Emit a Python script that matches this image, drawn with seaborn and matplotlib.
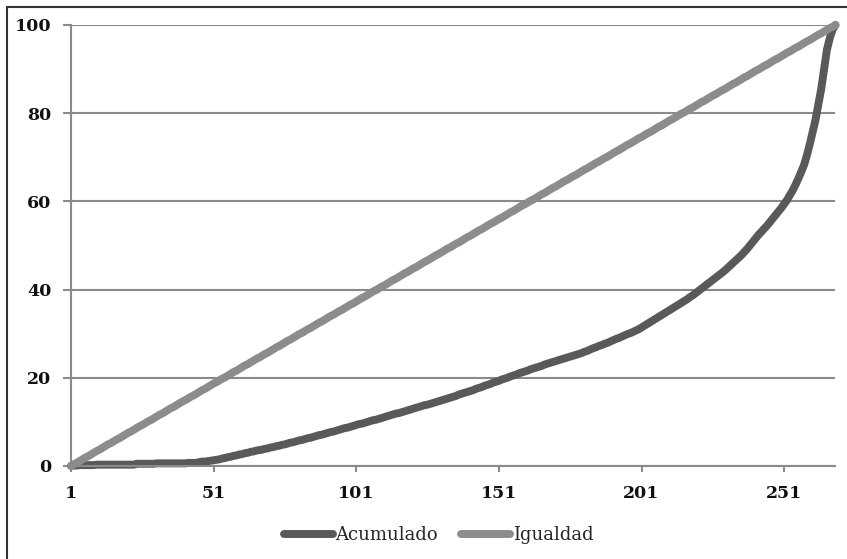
import pandas as pd
import seaborn as sns
import matplotlib.pyplot as plt
from matplotlib.lines import Line2D
from matplotlib.patches import Rectangle

# position of each person on the category axis
persona = list(range(1, 270))

# cumulative share (Lorenz curve)
acumulado = [
    0.0, 0.1, 0.1, 0.2, 0.2, 0.2, 0.2, 0.2, 0.2, 0.3,
    0.3, 0.3, 0.3, 0.3, 0.3, 0.3, 0.3, 0.3, 0.3, 0.3,
    0.3, 0.3, 0.3, 0.5, 0.5, 0.5, 0.5, 0.5, 0.5, 0.5,
    0.6, 0.6, 0.6, 0.6, 0.6, 0.6, 0.6, 0.6, 0.6, 0.6,
    0.6, 0.7, 0.7, 0.7, 0.7, 0.9, 1.0, 1.0, 1.1, 1.2,
    1.3, 1.4, 1.5, 1.7, 1.8, 2.0, 2.1, 2.3, 2.4, 2.6,
    2.7, 2.9, 3.0, 3.2, 3.3, 3.5, 3.6, 3.7, 3.9, 4.0,
    4.2, 4.3, 4.5, 4.6, 4.8, 4.9, 5.1, 5.3, 5.4, 5.6,
    5.8, 5.9, 6.1, 6.3, 6.4, 6.6, 6.8, 7.0, 7.1, 7.3,
    7.5, 7.7, 7.8, 8.0, 8.2, 8.4, 8.6, 8.7, 8.9, 9.1,
    9.3, 9.5, 9.6, 9.8, 10.0, 10.2, 10.4, 10.5, 10.7, 10.9,
    11.1, 11.3, 11.5, 11.7, 11.9, 12.0, 12.2, 12.4, 12.6, 12.8,
    13.0, 13.2, 13.4, 13.6, 13.8, 13.9, 14.1, 14.3, 14.5, 14.7,
    14.9, 15.1, 15.3, 15.5, 15.7, 15.9, 16.2, 16.4, 16.6, 16.8,
    17.0, 17.2, 17.5, 17.7, 17.9, 18.2, 18.4, 18.6, 18.9, 19.1,
    19.3, 19.6, 19.8, 20.0, 20.3, 20.5, 20.7, 21.0, 21.2, 21.4,
    21.6, 21.9, 22.1, 22.3, 22.5, 22.7, 23.0, 23.2, 23.4, 23.6,
    23.8, 24.0, 24.2, 24.4, 24.6, 24.8, 25.0, 25.2, 25.4, 25.6,
    25.9, 26.1, 26.4, 26.7, 26.9, 27.2, 27.4, 27.7, 27.9, 28.2,
    28.5, 28.8, 29.0, 29.3, 29.6, 29.9, 30.1, 30.4, 30.7, 31.0,
    31.4, 31.8, 32.2, 32.6, 33.0, 33.4, 33.8, 34.2, 34.6, 35.0,
    35.4, 35.8, 36.2, 36.6, 37.0, 37.4, 37.8, 38.3, 38.7, 39.2,
    39.7, 40.2, 40.7, 41.2, 41.7, 42.2, 42.7, 43.2, 43.7, 44.2,
    44.8, 45.4, 46.0, 46.6, 47.2, 47.8, 48.5, 49.2, 50.0, 50.8,
    51.6, 52.4, 53.1, 53.8, 54.5, 55.3, 56.1, 56.9, 57.7, 58.5,
    59.4, 60.3, 61.4, 62.5, 63.8, 65.2, 66.7, 68.3, 70.5, 73.0,
    75.7, 78.5, 82.0, 85.5, 90.0, 94.4, 97.0, 99.0, 100.0,
]

# line of perfect equality
igualdad = [
    0.0, 0.4, 0.7, 1.1, 1.5, 1.9, 2.2, 2.6, 3.0, 3.4,
    3.7, 4.1, 4.5, 4.9, 5.2, 5.6, 6.0, 6.3, 6.7, 7.1,
    7.5, 7.8, 8.2, 8.6, 9.0, 9.3, 9.7, 10.1, 10.4, 10.8,
    11.2, 11.6, 11.9, 12.3, 12.7, 13.1, 13.4, 13.8, 14.2, 14.6,
    14.9, 15.3, 15.7, 16.0, 16.4, 16.8, 17.2, 17.5, 17.9, 18.3,
    18.7, 19.0, 19.4, 19.8, 20.1, 20.5, 20.9, 21.3, 21.6, 22.0,
    22.4, 22.8, 23.1, 23.5, 23.9, 24.3, 24.6, 25.0, 25.4, 25.7,
    26.1, 26.5, 26.9, 27.2, 27.6, 28.0, 28.4, 28.7, 29.1, 29.5,
    29.9, 30.2, 30.6, 31.0, 31.3, 31.7, 32.1, 32.5, 32.8, 33.2,
    33.6, 34.0, 34.3, 34.7, 35.1, 35.4, 35.8, 36.2, 36.6, 36.9,
    37.3, 37.7, 38.1, 38.4, 38.8, 39.2, 39.6, 39.9, 40.3, 40.7,
    41.0, 41.4, 41.8, 42.2, 42.5, 42.9, 43.3, 43.7, 44.0, 44.4,
    44.8, 45.1, 45.5, 45.9, 46.3, 46.6, 47.0, 47.4, 47.8, 48.1,
    48.5, 48.9, 49.3, 49.6, 50.0, 50.4, 50.7, 51.1, 51.5, 51.9,
    52.2, 52.6, 53.0, 53.4, 53.7, 54.1, 54.5, 54.9, 55.2, 55.6,
    56.0, 56.3, 56.7, 57.1, 57.5, 57.8, 58.2, 58.6, 59.0, 59.3,
    59.7, 60.1, 60.4, 60.8, 61.2, 61.6, 61.9, 62.3, 62.7, 63.1,
    63.4, 63.8, 64.2, 64.6, 64.9, 65.3, 65.7, 66.0, 66.4, 66.8,
    67.2, 67.5, 67.9, 68.3, 68.7, 69.0, 69.4, 69.8, 70.1, 70.5,
    70.9, 71.3, 71.6, 72.0, 72.4, 72.8, 73.1, 73.5, 73.9, 74.3,
    74.6, 75.0, 75.4, 75.7, 76.1, 76.5, 76.9, 77.2, 77.6, 78.0,
    78.4, 78.7, 79.1, 79.5, 79.9, 80.2, 80.6, 81.0, 81.3, 81.7,
    82.1, 82.5, 82.8, 83.2, 83.6, 84.0, 84.3, 84.7, 85.1, 85.4,
    85.8, 86.2, 86.6, 86.9, 87.3, 87.7, 88.1, 88.4, 88.8, 89.2,
    89.6, 89.9, 90.3, 90.7, 91.0, 91.4, 91.8, 92.2, 92.5, 92.9,
    93.3, 93.7, 94.0, 94.4, 94.8, 95.1, 95.5, 95.9, 96.3, 96.6,
    97.0, 97.4, 97.8, 98.1, 98.5, 98.9, 99.3, 99.6, 100.0,
]

series = ['Acumulado', 'Igualdad']
colors = {'Acumulado': '#595959', 'Igualdad': '#8c8c8c'}
x_ticks = [1, 51, 101, 151, 201, 251]
y_ticks = [0, 20, 40, 60, 80, 100]

df = pd.DataFrame({
    'Persona': persona * 2,
    'Porcentaje': acumulado + igualdad,
    'Serie': ['Acumulado'] * len(acumulado) + ['Igualdad'] * len(igualdad),
})

sns.set_style('white')
plt.rcParams['font.family'] = ['DejaVu Serif']

fig = plt.figure(figsize=(8.47, 5.59), dpi=100)
ax = fig.add_axes([0.0838, 0.1664, 0.9026, 0.7889])

sns.lineplot(data=df, x='Persona', y='Porcentaje', hue='Serie',
             hue_order=series, palette=colors, linewidth=5.7,
             legend=False, ax=ax)
for line in ax.get_lines():
    line.set_solid_capstyle('round')
    line.set_clip_on(False)

grid_col = '#8a8a8a'
ax.set_xlim(1, 269)
ax.set_ylim(0, 100)
ax.set_xticks(x_ticks)
ax.set_yticks(y_ticks)
ax.grid(axis='y', color=grid_col, linewidth=1.5)
ax.grid(axis='x', visible=False)
ax.set_axisbelow(True)
ax.set_xlabel('')
ax.set_ylabel('')

for side in ['top', 'right']:
    ax.spines[side].set_visible(False)
for side in ['left', 'bottom']:
    ax.spines[side].set_color(grid_col)
    ax.spines[side].set_linewidth(1.5)

ax.tick_params(axis='y', left=True, length=6, width=1.5, color=grid_col,
               direction='out', pad=8, labelsize=12.5, labelcolor='#111111')
ax.tick_params(axis='x', bottom=True, length=4.5, width=1.5, color=grid_col,
               direction='out', pad=9, labelsize=12.5, labelcolor='#111111')
for t in ax.get_xticklabels() + ax.get_yticklabels():
    t.set_fontweight('bold')

handles = [Line2D([0], [0], color=colors[s], linewidth=5.7,
                  solid_capstyle='round') for s in series]
fig.legend(handles, series, loc='center', bbox_to_anchor=(0.518, 0.043),
           ncol=2, frameon=False, handlelength=2.7, handletextpad=0.15,
           columnspacing=1.3, fontsize=13)

# thin frame around the chart area
fig.patches.append(Rectangle((7 / 847, -0.05), 1.1, 1.0375,
                             transform=fig.transFigure, fill=False,
                             edgecolor='#333333', linewidth=1.5))

fig.savefig('out.png', dpi=100)
